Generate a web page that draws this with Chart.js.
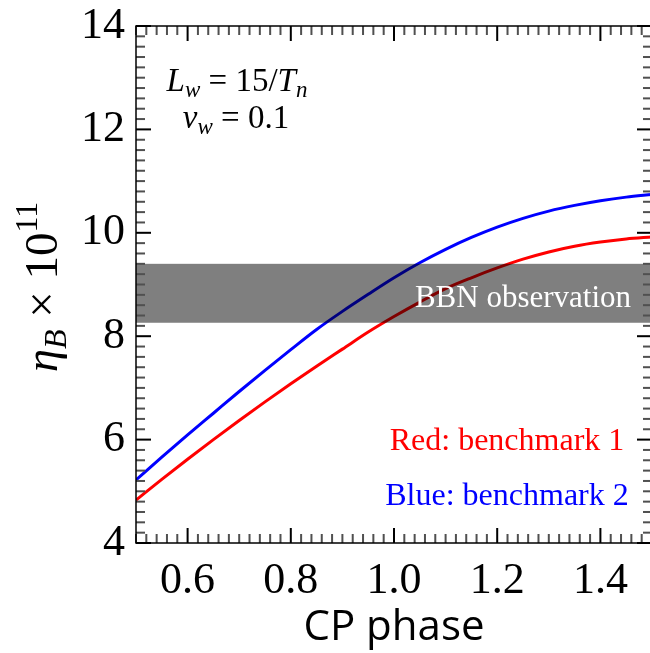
<!DOCTYPE html>
<html>
<head>
<meta charset="utf-8">
<script src="https://cdn.jsdelivr.net/npm/chart.js@4.4.1/dist/chart.umd.min.js"></script>
<style>
  html, body { margin: 0; padding: 0; background: #fff; overflow: hidden; }
  #wrap { width: 650px; height: 653px; overflow: hidden; }
  canvas { display: block; }
</style>
</head>
<body>
<div id="wrap"><canvas id="chart" width="660" height="653"></canvas></div>
<script>
// CP phase samples and the two benchmark curves (eta_B x 10^11)
const cpPhase    = [0.50, 0.55, 0.60, 0.65, 0.70, 0.75, 0.80, 0.85, 0.90, 0.95, 1.00,
                    1.05, 1.10, 1.15, 1.20, 1.25, 1.30, 1.35, 1.40, 1.45, 1.50];
const benchmark1 = [4.83, 5.23, 5.62, 6.00, 6.37, 6.73, 7.08, 7.42, 7.75, 8.08, 8.38,
                    8.66, 8.92, 9.13, 9.32, 9.49, 9.63, 9.74, 9.82, 9.88, 9.92];
const benchmark2 = [5.22, 5.66, 6.09, 6.51, 6.93, 7.34, 7.74, 8.13, 8.48, 8.81, 9.13,
                    9.42, 9.68, 9.91, 10.11, 10.28, 10.42, 10.53, 10.62, 10.69, 10.74];
const bbnBand = [8.26, 9.40];
const xTicks = [0.6, 0.8, 1.0, 1.2, 1.4];
const yTicks = [4, 6, 8, 10, 12, 14];

const SERIF = '"Liberation Serif", "Times New Roman", serif';

function toPoints(xs, ys) {
  return xs.map((x, i) => ({x: x, y: ys[i]}));
}

// a row of text pieces (italic, sub/superscripts)
function richWidth(ctx, parts) {
  let w = 0;
  parts.forEach(p => { ctx.font = p.f; w += ctx.measureText(p.t).width; });
  return w;
}
function drawRich(ctx, parts, x, y) {
  parts.forEach(p => {
    ctx.font = p.f;
    ctx.fillText(p.t, x, y + (p.dy || 0));
    x += ctx.measureText(p.t).width;
  });
}

const decorations = {
  id: 'decorations',
  afterDatasetsDraw(chart) {
    const ctx = chart.ctx;
    const a = chart.chartArea;
    const ys = chart.scales.y;

    // BBN band, translucent, over the curves
    const yTop = ys.getPixelForValue(bbnBand[1]);
    const yBot = ys.getPixelForValue(bbnBand[0]);
    ctx.save();
    ctx.fillStyle = 'rgba(0,0,0,0.5)';
    ctx.fillRect(a.left, yTop, a.right - a.left, yBot - yTop);
    ctx.fillStyle = '#ffffff';
    ctx.font = '31px ' + SERIF;
    ctx.textAlign = 'center';
    ctx.textBaseline = 'alphabetic';
    ctx.fillText('BBN observation', 523, 307);
    ctx.restore();
  },
  afterDraw(chart) {
    const ctx = chart.ctx;
    const a = chart.chartArea;
    const xs = chart.scales.x, ys = chart.scales.y;
    ctx.save();

    // inward frame ticks: minor every 0.02 in x, every 0.2 in y
    for (let k = 0; k <= 50; k++) {
      const px = xs.getPixelForValue(0.5 + k * 0.02);
      const major = k % 10 === 5;
      const len = major ? 15 : 9;
      ctx.fillStyle = major ? 'black' : '#505050';
      ctx.fillRect(px - 1, a.bottom - len, 2, len);
      ctx.fillRect(px - 1, a.top, 2, len);
    }
    for (let k = 0; k <= 50; k++) {
      const py = ys.getPixelForValue(4 + k * 0.2);
      const major = k % 10 === 0;
      const len = major ? 15 : 9;
      ctx.fillStyle = major ? 'black' : '#505050';
      ctx.fillRect(a.left, py - 1, len, 2);
      ctx.fillRect(a.right - len, py - 1, len, 2);
    }
    ctx.strokeStyle = '#000';
    ctx.lineWidth = 1.5;
    ctx.strokeRect(a.left, a.top, a.right - a.left, a.bottom - a.top);

    // annotations
    ctx.fillStyle = '#000';
    ctx.textAlign = 'left';
    ctx.textBaseline = 'alphabetic';
    const big = '33px ' + SERIF, bigI = 'italic 33px ' + SERIF, subI = 'italic 23px ' + SERIF;
    const row1 = [{t: 'L', f: bigI}, {t: 'w', f: subI, dy: 6}, {t: ' = 15/', f: big},
                  {t: 'T', f: bigI}, {t: 'n', f: subI, dy: 6}];
    const row2 = [{t: 'v', f: bigI}, {t: 'w', f: subI, dy: 6}, {t: ' = 0.1', f: big}];
    drawRich(ctx, row1, 237 - richWidth(ctx, row1) / 2, 91);
    drawRich(ctx, row2, 236 - richWidth(ctx, row2) / 2, 128);

    ctx.textAlign = 'center';
    ctx.font = '32px ' + SERIF;
    ctx.fillStyle = '#ff0000';
    ctx.fillText('Red: benchmark 1', 507, 450);
    ctx.fillStyle = '#0000ff';
    ctx.fillText('Blue: benchmark 2', 507, 505);

    // y axis title: eta_B x 10^11, rotated
    ctx.translate(57, 287);
    ctx.rotate(-Math.PI / 2);
    ctx.fillStyle = '#000';
    ctx.textAlign = 'left';
    const parts = [
      {t: 'η', f: 'italic 47px ' + SERIF},
      {t: 'B', f: 'italic 32px ' + SERIF, dy: 9},
      {t: ' × 10', f: '47px ' + SERIF},
      {t: '11', f: '32px ' + SERIF, dy: -20}
    ];
    drawRich(ctx, parts, -richWidth(ctx, parts) / 2, 0);
    ctx.restore();
  }
};

new Chart(document.getElementById('chart'), {
  type: 'line',
  data: {
    datasets: [
      {
        label: 'Red: benchmark 1',
        data: toPoints(cpPhase, benchmark1),
        borderColor: '#ff0000',
        borderWidth: 3,
        pointRadius: 0,
        cubicInterpolationMode: 'monotone',
        fill: false
      },
      {
        label: 'Blue: benchmark 2',
        data: toPoints(cpPhase, benchmark2),
        borderColor: '#0000ff',
        borderWidth: 3,
        pointRadius: 0,
        cubicInterpolationMode: 'monotone',
        fill: false
      }
    ]
  },
  options: {
    responsive: false,
    animation: false,
    layout: { padding: { top: 26, right: 8, left: 0, bottom: 0 } },
    plugins: { legend: { display: false }, tooltip: { enabled: false } },
    scales: {
      x: {
        type: 'linear',
        min: 0.5, max: 1.5,
        afterBuildTicks: s => { s.ticks = xTicks.map(v => ({value: v})); },
        afterFit: s => { s.height = 110; s.paddingLeft = 0; s.paddingRight = 0; },
        grid: { display: false, drawTicks: false },
        border: { display: false },
        ticks: {
          padding: 12,
          color: '#000',
          font: { family: SERIF, size: 44 },
          callback: v => v.toFixed(1)
        },
        title: {
          display: true,
          text: 'CP phase',
          color: '#000',
          font: { family: '"Open Sans", sans-serif', size: 42 },
          padding: { top: 4, bottom: 0 }
        }
      },
      y: {
        min: 4, max: 14,
        afterBuildTicks: s => { s.ticks = yTicks.map(v => ({value: v})); },
        afterFit: s => { s.width = 136; s.paddingTop = 0; s.paddingBottom = 0; },
        grid: { display: false, drawTicks: false },
        border: { display: false },
        ticks: {
          padding: 11,
          color: '#000',
          font: { family: SERIF, size: 44 },
          callback: v => String(v)
        }
      }
    }
  },
  plugins: [decorations]
});
</script>
</body>
</html>
